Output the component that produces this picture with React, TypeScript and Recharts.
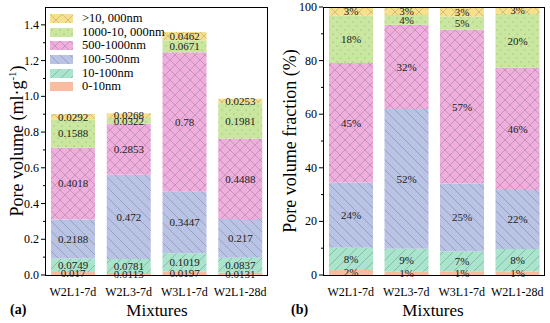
import React from "react";
import { Bar, BarChart, LabelList, XAxis, YAxis } from "recharts";

const categories = ["W2L1-7d", "W2L3-7d", "W3L1-7d", "W2L1-28d"];
const seriesNames = ["0-10nm", "10-100nm", "100-500nm", "500-1000nm", "1000-10, 000nm", ">10, 000nm"];

// pore volume (ml/g)
const vol0to10 = [0.017, 0.0113, 0.0197, 0.0131];
const vol10to100 = [0.0749, 0.0781, 0.1019, 0.0837];
const vol100to500 = [0.2188, 0.472, 0.3447, 0.217];
const vol500to1000 = [0.4018, 0.2853, 0.78, 0.4488];
const vol1000to10000 = [0.1588, 0.0322, 0.0671, 0.1981];
const volOver10000 = [0.0292, 0.0268, 0.0462, 0.0253];

// pore volume fraction (%)
const frac0to10 = [1.9, 1.2, 1.4, 1.3];
const frac10to100 = [8.3, 8.6, 7.4, 8.4];
const frac100to500 = [24.3, 52.1, 25.3, 22.0];
const frac500to1000 = [44.6, 31.5, 57.4, 45.6];
const frac1000to10000 = [17.6, 3.6, 5.0, 20.1];
const fracOver10000 = [3.3, 3.0, 3.4, 2.6];

const volTicks = [0, 0.1, 0.2, 0.3, 0.4, 0.5, 0.6, 0.7, 0.8, 0.9, 1.0, 1.1, 1.2, 1.3, 1.4];
const fracTicks = [0, 10, 20, 30, 40, 50, 60, 70, 80, 90, 100];

const keys = ["s0", "s1", "s2", "s3", "s4", "s5"];
const fills = ["#f9bc9e", "#a9e4cc", "#b9c3e5", "#f0aede", "#c9e79e", "#f6e08c"];

const build = (cols: number[][]) =>
  categories.map((name, i) => {
    const row: Record<string, number | string> = { name };
    cols.forEach((c, k) => (row[keys[k]] = c[i]));
    return row;
  });

const volData = build([vol0to10, vol10to100, vol100to500, vol500to1000, vol1000to10000, volOver10000]);
const fracData = build([frac0to10, frac10to100, frac100to500, frac500to1000, frac1000to10000, fracOver10000]);

const FONT = "'Liberation Serif', 'Times New Roman', serif";
const CH = 323;
const PLOT_TOP = 7;
const PLOT_BOTTOM = 275;

function Patterns() {
  const ln = "#8a8a9a";
  return (
    <svg width={0} height={0} style={{ position: "absolute" }}>
      <defs>
        <pattern id="p0" patternUnits="userSpaceOnUse" width={10} height={10}>
          <rect width={10} height={10} fill={fills[0]} />
        </pattern>
        <pattern id="p1" patternUnits="userSpaceOnUse" width={10} height={10}>
          <rect width={10} height={10} fill={fills[1]} />
          <path d="M0,10 L10,0 M-2,2 L2,-2 M8,12 L12,8" stroke="#7f9a90" strokeWidth={0.6} />
        </pattern>
        <pattern id="p2" patternUnits="userSpaceOnUse" width={10} height={10}>
          <rect width={10} height={10} fill={fills[2]} />
          <path d="M0,0 L10,10 M-2,8 L2,12 M8,-2 L12,2" stroke={ln} strokeWidth={0.6} />
        </pattern>
        <pattern id="p3" patternUnits="userSpaceOnUse" width={10} height={10}>
          <rect width={10} height={10} fill={fills[3]} />
          <path d="M0,0 L10,10 M0,10 L10,0" stroke="#a4849c" strokeWidth={0.6} />
        </pattern>
        <pattern id="p4" patternUnits="userSpaceOnUse" width={8} height={8}>
          <rect width={8} height={8} fill={fills[4]} />
          <circle cx={2} cy={2} r={0.6} fill="#8c9a80" />
          <circle cx={6} cy={6} r={0.6} fill="#8c9a80" />
        </pattern>
        <pattern id="p5" patternUnits="userSpaceOnUse" width={12} height={12}>
          <rect width={12} height={12} fill={fills[5]} />
          <path d="M0,0 L12,12 M0,12 L12,0" stroke="#b8a870" strokeWidth={0.6} />
        </pattern>
      </defs>
    </svg>
  );
}

function makeYTick(plotLeft: number, isMajor: (v: number) => boolean, fmt: (v: number) => string) {
  return (props: any) => {
    const { y, payload } = props;
    const major = isMajor(payload.value);
    return (
      <g>
        <line x1={plotLeft - (major ? 4 : 2)} x2={plotLeft} y1={y} y2={y} stroke="#000" />
        {major && (
          <text x={plotLeft - 6} y={y} dy={4} textAnchor="end" fontSize={12} fontFamily={FONT} fill="#000">
            {fmt(payload.value)}
          </text>
        )}
      </g>
    );
  };
}

const XTick = (props: any) => {
  const { x, payload } = props;
  return (
    <text x={x} y={PLOT_BOTTOM + 21} textAnchor="middle" fontSize={12} fontFamily={FONT} fill="#000">
      {payload.value}
    </text>
  );
};

function Panel({
  data,
  left,
  yWidth,
  rightMargin,
  domain,
  ticks,
  tick,
  labelFmt,
  labelSize,
}: {
  data: Record<string, number | string>[];
  left: number;
  yWidth: number;
  rightMargin: number;
  domain: [number, number];
  ticks: number[];
  tick: any;
  labelFmt: (v: any) => string;
  labelSize: number;
}) {
  const W = 275;
  return (
    <div style={{ position: "absolute", left, top: 0, width: W, height: CH }}>
      <BarChart
        width={W}
        height={CH}
        data={data}
        margin={{ top: PLOT_TOP, right: rightMargin, left: 0, bottom: 0 }}
        barSize={44}
      >
        <XAxis dataKey="name" axisLine={false} tickLine={false} height={CH - PLOT_BOTTOM} tick={XTick} interval={0} />
        <YAxis
          type="number"
          domain={domain}
          ticks={ticks}
          interval={0}
          width={yWidth}
          axisLine={false}
          tickLine={false}
          tick={tick}
        />
        {keys.map((k, i) => (
          <Bar key={k} dataKey={k} stackId="a" fill={`url(#p${i})`} isAnimationActive={false}>
            <LabelList
              dataKey={k}
              position="center"
              formatter={labelFmt}
              style={{ fontSize: labelSize, fontFamily: FONT, fill: "#222" }}
            />
          </Bar>
        ))}
      </BarChart>
      <div
        style={{
          position: "absolute",
          left: yWidth,
          top: PLOT_TOP,
          width: W - yWidth - rightMargin,
          height: PLOT_BOTTOM - PLOT_TOP + 1,
          border: "1px solid #000",
          boxSizing: "border-box",
          pointerEvents: "none",
        }}
      />
    </div>
  );
}

const textBase: React.CSSProperties = { position: "absolute", fontFamily: FONT, color: "#000", whiteSpace: "nowrap" };

export default function App() {
  return (
    <div style={{ position: "absolute", left: 0, top: 0, width: 550, height: CH, background: "#fff", overflow: "hidden" }}>
      <Patterns />
      <Panel
        data={volData}
        left={0}
        yWidth={45}
        rightMargin={7}
        domain={[0, 1.5]}
        ticks={volTicks}
        tick={makeYTick(45, (v) => Math.round(v * 10) % 2 === 0, (v) => v.toFixed(1))}
        labelFmt={(v: any) => String(v)}
        labelSize={11}
      />
      <Panel
        data={fracData}
        left={275}
        yWidth={48}
        rightMargin={5}
        domain={[0, 100]}
        ticks={fracTicks}
        tick={makeYTick(48, (v) => v % 20 === 0, (v) => String(v))}
        labelFmt={(v: any) => `${Math.round(v)}%`}
        labelSize={11}
      />

      {/* legend */}
      <div style={{ position: "absolute", left: 50, top: 12, fontFamily: FONT, fontSize: 12.5 }}>
        {seriesNames
          .map((n, i) => ({ n, i }))
          .reverse()
          .map(({ n, i }) => (
            <div key={n} style={{ display: "flex", alignItems: "center", height: 13.6 }}>
              <svg width={23} height={9} style={{ marginRight: 9 }}>
                <rect width={23} height={9} fill={`url(#p${i})`} />
              </svg>
              <span>{n}</span>
            </div>
          ))}
      </div>

      {/* axis titles */}
      <div
        style={{
          ...textBase,
          fontSize: 18,
          left: 17,
          top: 141,
          transform: "translate(-50%, -50%) rotate(-90deg)",
        }}
      >
        Pore volume (ml·g<sup style={{ fontSize: 11 }}>-1</sup>)
      </div>
      <div
        style={{
          ...textBase,
          fontSize: 18,
          left: 290,
          top: 141,
          transform: "translate(-50%, -50%) rotate(-90deg)",
        }}
      >
        Pore volume fraction (%)
      </div>
      <div style={{ ...textBase, fontSize: 17, left: 157, top: 311, transform: "translate(-50%, -50%)" }}>Mixtures</div>
      <div style={{ ...textBase, fontSize: 17, left: 433, top: 311, transform: "translate(-50%, -50%)" }}>Mixtures</div>
      <div style={{ ...textBase, fontSize: 14, fontWeight: "bold", left: 10, top: 302 }}>(a)</div>
      <div style={{ ...textBase, fontSize: 14, fontWeight: "bold", left: 291, top: 302 }}>(b)</div>
    </div>
  );
}
